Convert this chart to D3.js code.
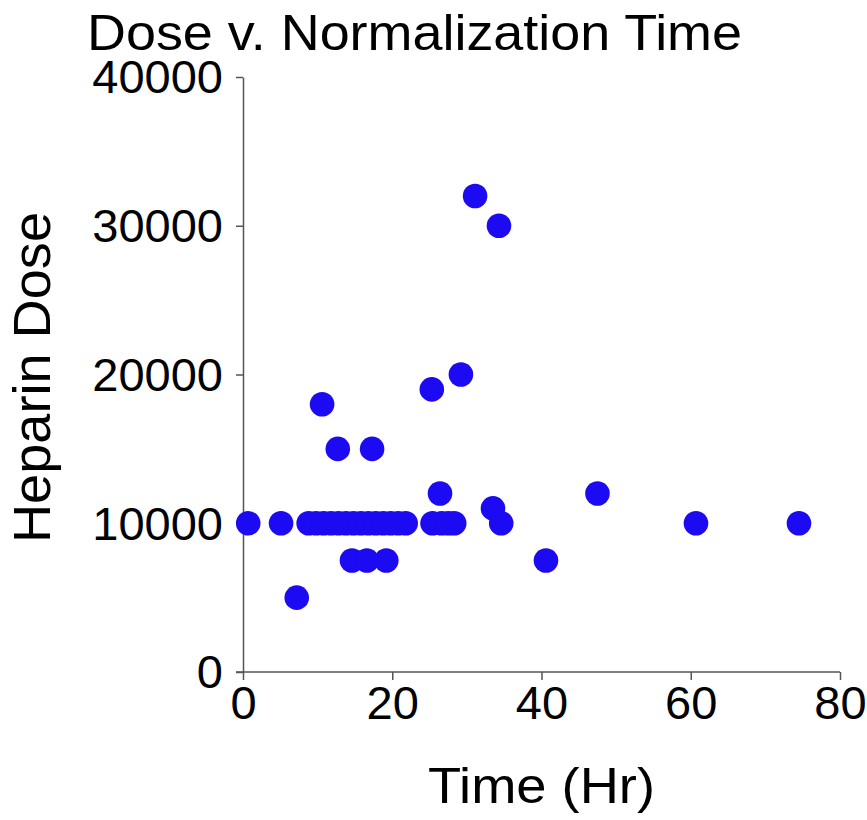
<!DOCTYPE html>
<html><head><meta charset="utf-8">
<script src="https://cdn.jsdelivr.net/npm/d3@7"></script>
<style>body{margin:0;background:#fff}svg{display:block}text{font-family:"Liberation Sans",Arial,Helvetica,sans-serif;fill:#000}</style>
</head><body><svg id="c" width="867" height="820"></svg>
<script>
const timeHr = [0.7, 5.1, 7.2, 10.6, 12.7, 17.3,
  8.8, 9.8, 10.8, 11.8, 12.8, 13.8, 14.8, 15.8, 16.8, 17.8, 18.8, 19.8, 20.8, 21.8,
  25.4, 26.6, 27.5, 28.3,
  14.6, 16.6, 19.2,
  25.3, 29.2, 31.1, 34.3, 26.4, 33.5, 34.6, 40.6, 47.5, 60.7, 74.5];
const heparinDose = [10000, 10000, 5000, 18000, 15000, 15000,
  10000, 10000, 10000, 10000, 10000, 10000, 10000, 10000, 10000, 10000, 10000, 10000, 10000, 10000,
  10000, 10000, 10000, 10000,
  7500, 7500, 7500,
  19000, 20000, 32000, 30000, 12000, 11000, 10000, 7500, 12000, 10000, 10000];
const xTicks = [0, 20, 40, 60, 80];
const yTicks = [0, 10000, 20000, 30000, 40000];
const titleText = "Dose v. Normalization Time";
const xLabel = "Time (Hr)";
const yLabel = "Heparin Dose";

const svg = d3.select("#c");
const x = d3.scaleLinear().domain([0, 80]).range([243, 840]);
const y = d3.scaleLinear().domain([0, 40000]).range([672, 77]);
const axisColor = "#555";

const gx = svg.append("g").attr("transform", `translate(0,${y(0)})`)
  .call(d3.axisBottom(x).tickValues(xTicks).tickSize(8).tickSizeOuter(0).tickPadding(6).tickFormat(d3.format("d")));
gx.select(".domain").attr("d", `M${x(0)-7},0H${x(80)}`);
const gy = svg.append("g").attr("transform", `translate(${x(0)},0)`)
  .call(d3.axisLeft(y).tickValues(yTicks).tickSize(7).tickSizeOuter(0).tickPadding(13).tickFormat(d3.format("d")));
[gx, gy].forEach(g => {
  g.select(".domain").attr("stroke", axisColor).attr("stroke-width", 1.5);
  g.selectAll(".tick line").attr("stroke", axisColor).attr("stroke-width", 1.5);
  g.selectAll("text").attr("font-size", 47).attr("font-family", '"Liberation Sans",Arial,sans-serif').attr("fill", "#000");
});
gx.selectAll("text").attr("dy", "0.71em");
gy.selectAll("text").attr("dy", "0.34em");

svg.append("g").selectAll("circle").data(timeHr).join("circle")
  .attr("cx", (d) => x(d)).attr("cy", (d, i) => y(heparinDose[i]))
  .attr("r", 12.3).attr("fill", "#1c0af2");

svg.append("text").attr("x", 87).attr("y", 50).attr("font-size", 50)
  .attr("textLength", 655).attr("lengthAdjust", "spacingAndGlyphs").text(titleText);
svg.append("text").attr("x", 428).attr("y", 803).attr("font-size", 50)
  .attr("textLength", 227).attr("lengthAdjust", "spacingAndGlyphs").text(xLabel);
svg.append("text").attr("transform", "translate(50,543) rotate(-90)").attr("font-size", 51)
  .attr("textLength", 331).attr("lengthAdjust", "spacingAndGlyphs").text(yLabel);
</script></body></html>
